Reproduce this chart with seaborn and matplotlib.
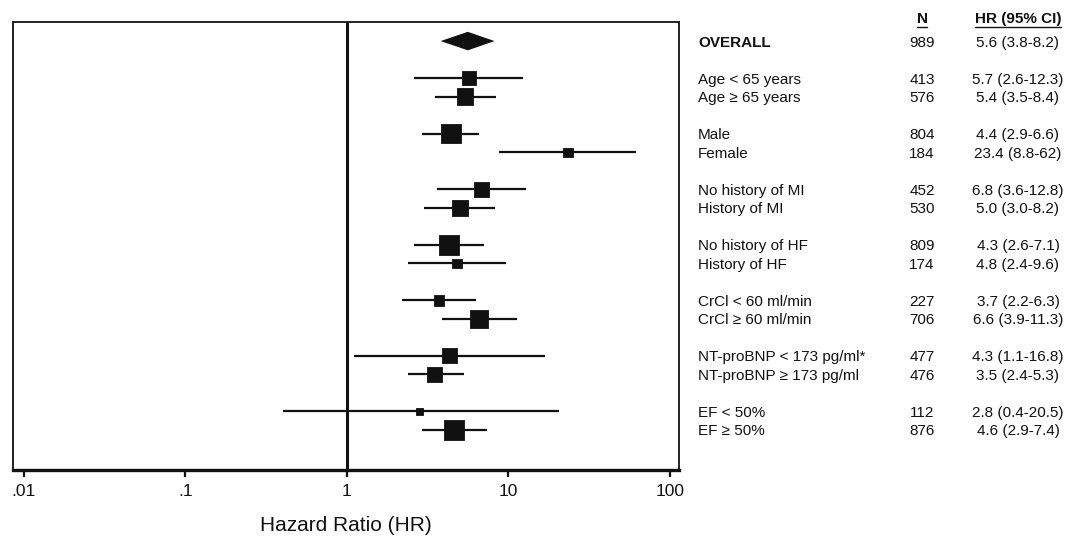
import numpy as np
import pandas as pd
import matplotlib
matplotlib.use("Agg")
import matplotlib.pyplot as plt
import seaborn as sns
from matplotlib.transforms import blended_transform_factory
from matplotlib.lines import Line2D

# ---------------- data ----------------
labels = ["OVERALL", "Age < 65 years", "Age ≥ 65 years", "Male", "Female",
          "No history of MI", "History of MI", "No history of HF", "History of HF",
          "CrCl < 60 ml/min", "CrCl ≥ 60 ml/min", "NT-proBNP < 173 pg/ml*",
          "NT-proBNP ≥ 173 pg/ml", "EF < 50%", "EF ≥ 50%"]
group = [0, 1, 1, 2, 2, 3, 3, 4, 4, 5, 5, 6, 6, 7, 7]
n_pts = [989, 413, 576, 804, 184, 452, 530, 809, 174, 227, 706, 477, 476, 112, 876]
hr = [5.6, 5.7, 5.4, 4.4, 23.4, 6.8, 5.0, 4.3, 4.8, 3.7, 6.6, 4.3, 3.5, 2.8, 4.6]
ci_lo = [3.8, 2.6, 3.5, 2.9, 8.8, 3.6, 3.0, 2.6, 2.4, 2.2, 3.9, 1.1, 2.4, 0.4, 2.9]
ci_hi = [8.2, 12.3, 8.4, 6.6, 62, 12.8, 8.2, 7.1, 9.6, 6.3, 11.3, 16.8, 5.3, 20.5, 7.4]
ci_text = ["5.6 (3.8-8.2)", "5.7 (2.6-12.3)", "5.4 (3.5-8.4)", "4.4 (2.9-6.6)",
           "23.4 (8.8-62)", "6.8 (3.6-12.8)", "5.0 (3.0-8.2)", "4.3 (2.6-7.1)",
           "4.8 (2.4-9.6)", "3.7 (2.2-6.3)", "6.6 (3.9-11.3)", "4.3 (1.1-16.8)",
           "3.5 (2.4-5.3)", "2.8 (0.4-20.5)", "4.6 (2.9-7.4)"]
tick_values = [0.01, 0.1, 1, 10, 100]
tick_labels = [".01", ".1", "1", "10", "100"]
header_n = "N"
header_hr = "HR (95% CI)"
x_title = "Hazard Ratio (HR)"

df = pd.DataFrame({"label": labels, "group": group, "n": n_pts, "hr": hr,
                   "lo": ci_lo, "hi": ci_hi, "txt": ci_text})
df["row"] = np.arange(len(df)) + df["group"]

# ---------------- style ----------------
sns.set_style("white")
plt.rcParams["font.family"] = ["Liberation Sans", "DejaVu Sans"]
INK = "#111111"

fig = plt.figure(figsize=(10.72, 5.40), dpi=100)
ax = fig.add_axes([13 / 1072, 1 - 470 / 540, (679 - 13) / 1072, (470 - 22) / 540])

ax.set_xscale("log")
ax.set_xlim(10 ** -2.068, 10 ** 2.056)
ax.set_ylim(23.16, -1.03)

# reference line at HR = 1
ax.axvline(1, color=INK, lw=2.2, zorder=1)

sub = df.iloc[1:]
ov = df.iloc[0]

# confidence intervals
ax.hlines(sub["row"], sub["lo"], sub["hi"], color=INK, lw=1.6, zorder=2)

# squares, area proportional to N
a = 0.245
sns.scatterplot(data=sub, x="hr", y="row", size="n",
                sizes=(a * sub["n"].min(), a * sub["n"].max()),
                size_norm=(sub["n"].min(), sub["n"].max()),
                marker="s", color=INK, edgecolor=INK, linewidth=0.6,
                legend=False, ax=ax, zorder=3)

# overall diamond
ax.fill([ov["lo"], ov["hr"], ov["hi"], ov["hr"]],
        [ov["row"], ov["row"] - 0.5, ov["row"], ov["row"] + 0.5],
        color=INK, zorder=3, lw=0)

# axes cosmetics
ax.set_xticks(tick_values)
ax.set_xticklabels(tick_labels)
ax.minorticks_off()
ax.xaxis.set_minor_locator(matplotlib.ticker.NullLocator())
ax.set_yticks([])
ax.tick_params(axis="x", direction="out", length=5, width=1.6, colors=INK,
               labelsize=12.5, pad=5, bottom=True)
for side in ["left", "top", "right"]:
    ax.spines[side].set_linewidth(1.4)
    ax.spines[side].set_color("#222222")
ax.spines["bottom"].set_linewidth(2.4)
ax.spines["bottom"].set_color(INK)
ax.set_xlabel(x_title, fontsize=15, labelpad=12, color=INK)
ax.set_ylabel("")

# right-hand table
tr = blended_transform_factory(fig.transFigure, ax.transData)
x_lab, x_n, x_hr = 698 / 1072, 922 / 1072, 1018 / 1072
for _, r in df.iterrows():
    bold = r["group"] == 0
    ax.text(x_lab, r["row"], r["label"], transform=tr, ha="left",
            va="center_baseline", fontsize=11, color=INK,
            fontweight="bold" if bold else "normal")
    ax.text(x_n, r["row"], str(r["n"]), transform=tr, ha="center",
            va="center_baseline", fontsize=11, color=INK)
    ax.text(x_hr, r["row"], r["txt"], transform=tr, ha="center",
            va="center_baseline", fontsize=11, color=INK)

hy = -1.25
t1 = ax.text(x_n, hy, header_n, transform=tr, ha="center", va="center_baseline",
             fontsize=11, fontweight="bold", color=INK)
t2 = ax.text(x_hr, hy, header_hr, transform=tr, ha="center", va="center_baseline",
             fontsize=11, fontweight="bold", color=INK)

fig.canvas.draw()
renderer = fig.canvas.get_renderer()
inv = fig.transFigure.inverted()
for t in (t1, t2):
    bb = t.get_window_extent(renderer)
    (x0, y0), (x1, y1) = inv.transform([(bb.x0, bb.y0 - 1), (bb.x1, bb.y0 - 1)])
    fig.add_artist(Line2D([x0, x1], [y0, y1], color=INK, lw=1.0))

fig.savefig("out.png", dpi=100, facecolor="white")
